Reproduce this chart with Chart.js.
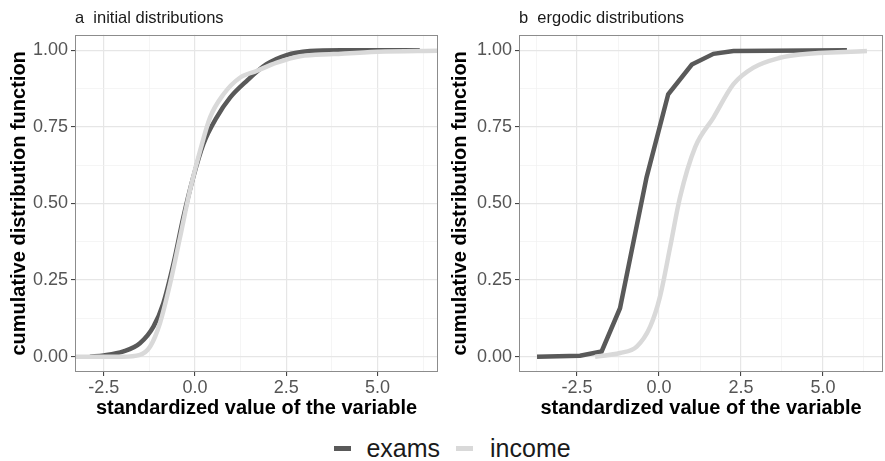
<!DOCTYPE html>
<html>
<head>
    <title>Initial and ergodic distributions</title>
    <script src="https://cdn.jsdelivr.net/npm/chart.js"></script>
    <style>
        body {
            margin: 0;
            background-color: #ffffff;
            font-family: 'Liberation Sans', Arial, sans-serif;
        }
        .panel {
            position: absolute;
            top: 0;
            height: 424px;
        }
        .legend {
            position: absolute;
            top: 432px;
            left: 0;
            width: 885px;
            height: 32px;
            display: flex;
            align-items: center;
            justify-content: center;
            font-size: 25px;
            color: #1a1a1a;
        }
        .key {
            display: inline-block;
            width: 17px;
            height: 5px;
        }
    </style>
</head>
<body>

    <div class="panel" style="left: 0; width: 442px;"><canvas id="initialChart" width="442" height="424"></canvas></div>
    <div class="panel" style="left: 442px; width: 443px;"><canvas id="ergodicChart" width="443" height="424"></canvas></div>
    <div class="legend">
        <span class="key" style="background: #595959; margin-left: 20px;"></span>
        <span style="margin-left: 15px;">exams</span>
        <span class="key" style="background: #d9d9d9; margin-left: 16px;"></span>
        <span style="margin-left: 17px;">income</span>
    </div>

    <script>
        // Panel a: initial distributions
        var examsInitX = [-2.88, -2.5, -1.96, -1.51, -1.14, -0.87, -0.59, -0.32, -0.05, 0.23, 0.59, 0.96, 1.42, 1.96, 2.51, 3.15, 4.0, 6.16];
        var examsInitY = [0, 0.004, 0.017, 0.044, 0.098, 0.174, 0.304, 0.455, 0.585, 0.694, 0.78, 0.845, 0.9, 0.954, 0.984, 0.997, 1.0, 1.0];
        var incomeInitX = [-3.3, -2.0, -1.51, -1.23, -0.96, -0.68, -0.41, -0.14, 0.14, 0.41, 0.78, 1.23, 1.69, 2.24, 2.88, 3.8, 5.0, 6.66];
        var incomeInitY = [0, 0, 0.006, 0.033, 0.11, 0.24, 0.39, 0.542, 0.672, 0.78, 0.856, 0.91, 0.932, 0.959, 0.98, 0.987, 0.995, 0.998];

        // Panel b: ergodic distributions
        var examsErgX = [-3.72, -2.41, -1.75, -1.19, -0.38, 0.28, 1.0, 1.66, 2.27, 5.73];
        var examsErgY = [0, 0.003, 0.017, 0.158, 0.585, 0.856, 0.953, 0.988, 0.997, 1.0];
        var incomeErgX = [-1.95, -1.19, -0.68, -0.27, 0.03, 0.34, 0.64, 1.1, 1.66, 2.27, 2.88, 3.69, 4.3, 6.34];
        var incomeErgY = [0, 0.012, 0.033, 0.098, 0.196, 0.358, 0.52, 0.683, 0.78, 0.889, 0.943, 0.975, 0.986, 0.997];

        var xTicks = [-3.75, -2.5, -1.25, 0, 1.25, 2.5, 3.75, 5, 6.25];
        var yTicks = [0, 0.125, 0.25, 0.375, 0.5, 0.625, 0.75, 0.875, 1];

        var fontFamily = "'Liberation Sans', Arial, sans-serif";

        function toPoints(xs, ys) {
            return xs.map(function(x, i) { return { x: x, y: ys[i] }; });
        }

        function isMajor(v, step) {
            return Math.abs(v / step - Math.round(v / step)) < 1e-6;
        }

        // ggplot-like panel border on all four sides
        var panelBorder = {
            id: 'panelBorder',
            afterDraw: function(chart) {
                var a = chart.chartArea;
                var ctx = chart.ctx;
                ctx.save();
                ctx.strokeStyle = '#8c8c8c';
                ctx.lineWidth = 1;
                ctx.strokeRect(Math.round(a.left) + 0.5, Math.round(a.top) + 0.5, Math.round(a.right - a.left) - 1, Math.round(a.bottom - a.top) - 1);
                ctx.restore();
            }
        };

        function axis(min, max, ticks, step, digits) {
            return {
                type: 'linear',
                min: min,
                max: max,
                afterBuildTicks: function(scale) {
                    scale.ticks = ticks.filter(function(v) { return v >= min && v <= max; }).map(function(v) { return { value: v }; });
                },
                border: { display: false },
                grid: {
                    color: function(c) { return isMajor(c.tick.value, step) ? '#e6e6e6' : '#f0f0f0'; },
                    lineWidth: function(c) { return isMajor(c.tick.value, step) ? 1.2 : 0.7; },
                    tickColor: function(c) { return isMajor(c.tick.value, step) ? '#333333' : 'rgba(0,0,0,0)'; },
                    tickLength: 4,
                    tickWidth: 1
                },
                ticks: {
                    autoSkip: false,
                    maxRotation: 0,
                    color: '#555555',
                    font: { family: fontFamily, size: 18 },
                    callback: function(v) { return isMajor(v, step) ? v.toFixed(digits) : ''; }
                }
            };
        }

        function createChart(canvasId, title, xMin, xMax, yAxisWidth, yTitlePad, rightPad, exams, income, examsSmooth) {
            var xScale = axis(xMin, xMax, xTicks, 2.5, 1);
            xScale.ticks.padding = 1;
            xScale.title = {
                display: true,
                text: 'standardized value of the variable',
                color: '#000000',
                font: { family: fontFamily, size: 20, weight: 'bold' },
                padding: { top: 0, bottom: 4 }
            };
            xScale.afterFit = function(scale) { scale.height = 52; };

            var yScale = axis(-0.05, 1.05, yTicks, 0.25, 2);
            yScale.ticks.padding = 3;
            yScale.title = {
                display: true,
                text: 'cumulative distribution function',
                color: '#000000',
                font: { family: fontFamily, size: 20, weight: 'bold' },
                padding: { top: yTitlePad, bottom: 0 }
            };
            yScale.afterFit = function(scale) { scale.width = yAxisWidth; };

            var ctx = document.getElementById(canvasId).getContext('2d');
            return new Chart(ctx, {
                type: 'line',
                plugins: [panelBorder],
                data: {
                    datasets: [
                        {
                            label: 'exams',
                            data: exams,
                            borderColor: '#595959',
                            borderWidth: 4.5,
                            pointRadius: 0,
                            cubicInterpolationMode: examsSmooth ? 'monotone' : 'default',
                            order: 1
                        },
                        {
                            label: 'income',
                            data: income,
                            borderColor: '#d9d9d9',
                            borderWidth: 4.5,
                            pointRadius: 0,
                            cubicInterpolationMode: 'monotone',
                            order: 0
                        }
                    ]
                },
                options: {
                    responsive: false,
                    animation: false,
                    layout: { padding: { top: 4, right: rightPad, left: 0, bottom: 0 } },
                    plugins: {
                        legend: { display: false },
                        tooltip: { enabled: false },
                        title: {
                            display: true,
                            text: title,
                            align: 'start',
                            fullSize: false,
                            color: '#1a1a1a',
                            font: { family: fontFamily, size: 16.5, weight: 'normal' },
                            padding: { top: 5, bottom: 6 }
                        }
                    },
                    scales: { x: xScale, y: yScale }
                }
            });
        }

        createChart('initialChart', 'a  initial distributions', -3.29, 6.66, 75, 7, 4,
            toPoints(examsInitX, examsInitY), toPoints(incomeInitX, incomeInitY), true);
        createChart('ergodicChart', 'b  ergodic distributions', -4.27, 6.83, 77, 6, 2,
            toPoints(examsErgX, examsErgY), toPoints(incomeErgX, incomeErgY), false);
    </script>
</body>
</html>
